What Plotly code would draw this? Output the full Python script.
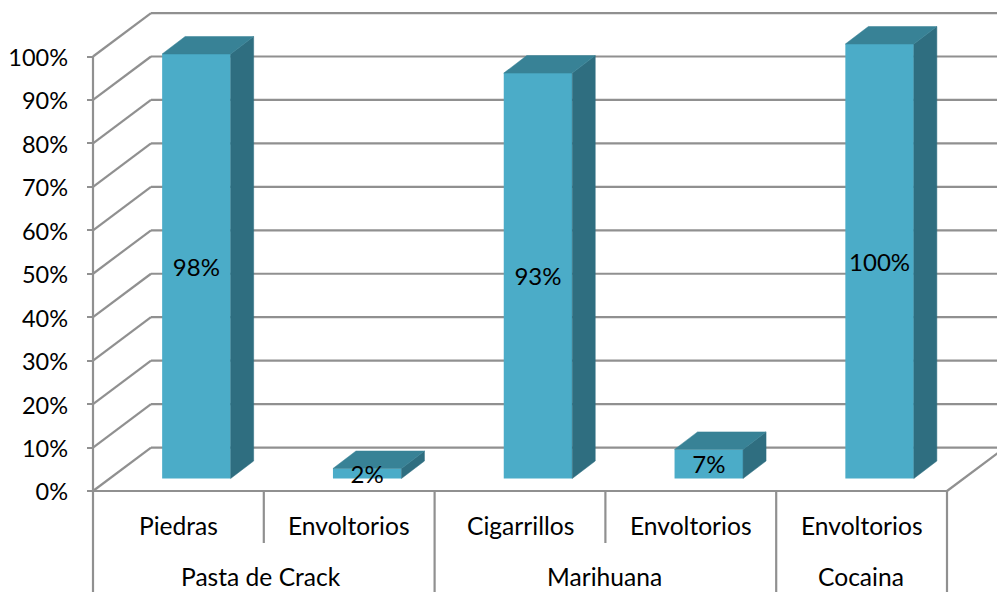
import plotly.graph_objects as go

categories = ["Piedras", "Envoltorios", "Cigarrillos", "Envoltorios", "Envoltorios"]
values = [97.7, 2.3, 93.3, 6.7, 100]
groups = ["Pasta de Crack", "Marihuana", "Cocaina"]
group_spans = [(0, 2), (2, 4), (4, 5)]
y_ticks = list(range(0, 101, 10))
y_labels = [f"{t}%" for t in y_ticks]

W, H = 997, 592
X0, X5, Y0, Y100 = 93.0, 947.0, 491.0, 56.5
SLOT = (X5 - X0) / 5
UNIT = (Y0 - Y100) / 100
WALL_DX, WALL_DY = 58 / SLOT, 10.0
BAR_W = 68.5 / SLOT
BAR_OFF = 18 / SLOT
BAR_BASE = 12.5 / UNIT
BAR_DX, BAR_DY = 23 / SLOT, 17.5 / UNIT
GRID = "#909090"
FRONT, TOP, SIDE = "#4BACC8", "#388296", "#2F6E80"
FONT = "Lato"
FS_TICK, FS_BAR, FS_CAT = 23.5, 24, 24.6
GROUP_XSHIFT = [-3, -1, -1]

xs = [i + 0.5 + BAR_OFF for i in range(len(values))]
xmax_wall = 5 + WALL_DX

fig = go.Figure()
line = dict(color=GRID, width=2.2)
shapes = []
def seg(x0, y0, x1, y1):
    shapes.append(dict(type="line", xref="x", yref="y", x0=x0, y0=y0, x1=x1, y1=y1,
                       line=line, layer="below"))

for t in y_ticks:
    seg(0, t, WALL_DX, t + WALL_DY)
    seg(WALL_DX, t + WALL_DY, xmax_wall, t + WALL_DY)
seg(0, 0, 0, 100)
seg(0, 0, 5, 0)
seg(5, 0, xmax_wall, WALL_DY)

row1_bottom = -(543 - Y0) / UNIT
fig_bottom = -(H - Y0) / UNIT
for i in range(6):
    is_group_edge = i in (0, 2, 4, 5)
    seg(i, 0, i, fig_bottom if is_group_edge else row1_bottom)

fig.add_trace(go.Bar(
    x=xs, y=values, base=[BAR_BASE] * len(values), width=BAR_W,
    marker=dict(color=FRONT, line=dict(width=0)),
    cliponaxis=False, hoverinfo="skip", showlegend=False,
))

side_x, side_y, top_x, top_y = [], [], [], []
for x, v in zip(xs, values):
    l, r = x - BAR_W / 2, x + BAR_W / 2
    b, t = BAR_BASE, BAR_BASE + v
    side_x += [r, r + BAR_DX, r + BAR_DX, r, r, None]
    side_y += [b, b + BAR_DY, t + BAR_DY, t, b, None]
    top_x += [l, l + BAR_DX, r + BAR_DX, r, l, None]
    top_y += [t, t + BAR_DY, t + BAR_DY, t, t, None]
for px, py, c in [(side_x, side_y, SIDE), (top_x, top_y, TOP)]:
    fig.add_trace(go.Scatter(x=px, y=py, mode="lines", fill="toself", fillcolor=c,
                             line=dict(color=c, width=0.5), hoverinfo="skip",
                             showlegend=False))

TEXT_DROP = 3.5 / UNIT
fig.add_trace(go.Scatter(
    x=xs, y=[BAR_BASE + v / 2 - TEXT_DROP for v in values], mode="text",
    text=[f"{round(v)}%" for v in values], textposition="middle center",
    textfont=dict(family=FONT, size=FS_BAR, color="black"),
    hoverinfo="skip", showlegend=False,
))

# invisible trace so the tick-label axis (nudged down to sit as in the reference) is drawn
fig.add_trace(go.Scatter(x=[0], y=[0], yaxis="y2", mode="markers", marker=dict(opacity=0),
                         hoverinfo="skip", showlegend=False))

annotations = []
row1_y = -(525 - Y0) / UNIT
row2_y = -(576 - Y0) / UNIT
for i, c in enumerate(categories):
    annotations.append(dict(x=i + 0.5, y=row1_y, text=c, xref="x", yref="y", showarrow=False,
                            font=dict(family=FONT, size=FS_CAT, color="black")))
for g, (a, b), dx in zip(groups, group_spans, GROUP_XSHIFT):
    annotations.append(dict(x=(a + b) / 2, y=row2_y, text=g, xref="x", yref="y", showarrow=False,
                            xshift=dx, font=dict(family=FONT, size=FS_CAT, color="black")))

LABEL_SHIFT = 1.2 / UNIT
yrange = [(Y0 - H) / UNIT, Y0 / UNIT]
fig.update_layout(
    width=W, height=H, margin=dict(l=0, r=0, t=0, b=0),
    paper_bgcolor="white", plot_bgcolor="white", showlegend=False,
    shapes=shapes, annotations=annotations,
    xaxis=dict(range=[-X0 / SLOT, (W - X0) / SLOT], domain=[0, 1], visible=False, fixedrange=True),
    yaxis=dict(range=yrange, domain=[0, 1], showgrid=False, zeroline=False,
               showline=False, anchor="free", position=X0 / W, side="left",
               tickmode="array", tickvals=y_ticks, showticklabels=False,
               ticks="outside", ticklen=6, tickwidth=2, tickcolor=GRID, fixedrange=True),
    yaxis2=dict(range=[yrange[0] + LABEL_SHIFT, yrange[1] + LABEL_SHIFT], domain=[0, 1],
                overlaying="y", showgrid=False, zeroline=False, showline=False,
                anchor="free", position=68 / W, side="left",
                tickmode="array", tickvals=y_ticks, ticktext=y_labels, ticks="",
                tickfont=dict(family=FONT, size=FS_TICK, color="black"), fixedrange=True),
)

fig.write_html("out.html", config={"displayModeBar": False},
               post_script="document.body.style.margin='0';")
